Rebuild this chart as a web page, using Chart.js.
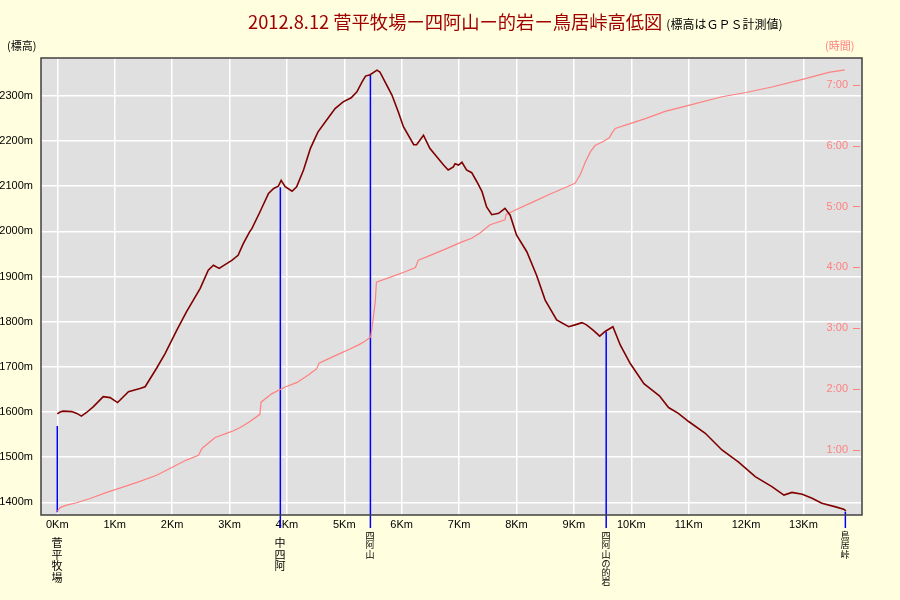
<!DOCTYPE html>
<html><head><meta charset="utf-8">
<script src="https://cdn.jsdelivr.net/npm/chart.js@4.4.1/dist/chart.umd.min.js"></script>
<style>html,body{margin:0;padding:0;background:#ffffe0;}canvas{display:block;}</style>
</head><body>
<canvas id="c" width="900" height="600"></canvas>
<script>
// ---- data (distance in km, elevation in m, elapsed time in hours) ----
const elevKm = [0.00,0.05,0.10,0.25,0.34,0.42,0.51,0.63,0.80,0.92,1.05,1.24,1.44,1.53,1.73,1.88,2.08,2.25,2.49,2.63,2.72,2.82,3.04,3.15,3.24,3.35,3.39,3.53,3.68,3.77,3.85,3.90,3.97,4.09,4.17,4.29,4.41,4.54,4.69,4.84,4.98,5.12,5.22,5.31,5.37,5.45,5.57,5.62,5.71,5.83,5.94,6.03,6.21,6.26,6.38,6.49,6.64,6.73,6.81,6.90,6.93,6.99,7.05,7.13,7.22,7.31,7.40,7.48,7.57,7.69,7.80,7.89,8.00,8.18,8.35,8.50,8.70,8.91,9.02,9.14,9.22,9.34,9.45,9.55,9.68,9.81,9.98,10.22,10.33,10.49,10.65,10.82,11.00,11.29,11.58,11.87,12.16,12.45,12.66,12.80,12.98,13.15,13.32,13.56,13.70,13.74];
const elevM  = [1596,1600,1602,1601,1597,1591,1599,1612,1634,1632,1621,1645,1652,1656,1697,1730,1781,1822,1874,1914,1925,1918,1936,1947,1973,1999,2006,2043,2084,2095,2100,2113,2099,2089,2099,2136,2184,2220,2246,2272,2287,2296,2309,2331,2344,2347,2357,2353,2331,2302,2265,2232,2192,2192,2213,2184,2161,2147,2136,2143,2150,2147,2153,2136,2130,2110,2088,2054,2037,2040,2051,2036,1992,1955,1903,1848,1804,1789,1793,1798,1793,1781,1768,1779,1789,1748,1708,1663,1652,1636,1610,1597,1579,1553,1516,1489,1457,1435,1416,1422,1418,1409,1398,1390,1385,1381];
const timeKm = [0.00,0.05,0.16,0.34,0.57,0.86,1.09,1.44,1.73,2.02,2.25,2.46,2.52,2.75,3.04,3.18,3.35,3.53,3.55,3.74,3.97,4.17,4.38,4.52,4.56,4.72,4.93,5.07,5.25,5.36,5.46,5.49,5.54,5.56,5.83,6.06,6.24,6.29,6.53,6.76,6.93,7.05,7.22,7.37,7.54,7.80,7.82,8.00,8.30,8.58,8.82,9.02,9.11,9.20,9.29,9.37,9.52,9.62,9.66,9.72,9.98,10.27,10.59,11.00,11.58,12.00,12.45,13.00,13.44,13.72];
const timeH  = [0.00,0.06,0.10,0.14,0.21,0.31,0.38,0.49,0.59,0.73,0.84,0.92,1.03,1.21,1.31,1.37,1.47,1.59,1.79,1.93,2.04,2.11,2.24,2.34,2.43,2.50,2.59,2.65,2.73,2.79,2.86,3.06,3.44,3.76,3.85,3.93,4.00,4.12,4.21,4.30,4.37,4.42,4.48,4.57,4.70,4.78,4.87,4.95,5.08,5.20,5.30,5.38,5.52,5.73,5.90,6.00,6.07,6.13,6.20,6.28,6.36,6.45,6.56,6.66,6.80,6.87,6.96,7.09,7.20,7.24];
const kmTicks   = [0,1,2,3,4,5,6,7,8,9,10,11,12,13];
const elevTicks = [1400,1500,1600,1700,1800,1900,2000,2100,2200,2300];
const hourTicks = [1,2,3,4,5,6,7];
const landmarkNames   = ['菅平牧場','中四阿','四阿山','四阿山の的岩','鳥居峠'];
const landmarkKm      = [0, 3.886, 5.455, 9.563, 13.73];
const landmarkTopM    = [1569, 2098, 2347, 1778, 1379];
const landmarkBottomM = [1378, 1343, 1343, 1343, 1343];
const titleMain = '2012.8.12 菅平牧場ー四阿山ー的岩ー鳥居峠高低図';
const titleSub  = '(標高はＧＰＳ計測値)';
const leftAxisTitle  = '(標高)';
const rightAxisTitle = '(時間)';

// ---- styles ----
const NARROW = "'Liberation Sans Narrow','Liberation Sans',sans-serif";
const CJK = "'Noto Sans CJK JP',sans-serif";
const landmarkFontPx = [11, 11, 9, 9, 9];
const PINK = '#ff8080';

const toXY = (xs, ys) => xs.map((x, i) => ({x, y: ys[i]}));
const keepTicks = list => scale => { scale.ticks = list.map(v => ({value: v})); };

const datasets = [
  {label:'標高', data: toXY(elevKm, elevM), yAxisID:'y', borderColor:'#800000', borderWidth:1.6, pointRadius:0, tension:0, order:1},
  {label:'時間', data: toXY(timeKm, timeH), yAxisID:'y2', borderColor:PINK, borderWidth:1.2, pointRadius:0, tension:0, order:2}
];
landmarkKm.forEach((km, i) => {
  datasets.push({label: landmarkNames[i], data:[{x:km, y:landmarkTopM[i]},{x:km, y:landmarkBottomM[i]}], yAxisID:'y',
    borderColor:'#0000ff', borderWidth:1.5, pointRadius:0, clip:false, order:3});
});

const decor = {
  id:'decor',
  beforeDraw(chart){
    const {ctx, chartArea:a} = chart;
    ctx.save();
    ctx.fillStyle = '#ffffe0'; ctx.fillRect(0,0,chart.width,chart.height);
    ctx.fillStyle = '#e0e0e0'; ctx.fillRect(a.left,a.top,a.right-a.left,a.bottom-a.top);
    ctx.restore();
  },
  afterDraw(chart){
    const {ctx, chartArea:a, scales} = chart;
    ctx.save();
    // border
    ctx.strokeStyle = '#404040'; ctx.lineWidth = 1.5;
    ctx.strokeRect(a.left, a.top, a.right-a.left, a.bottom-a.top);
    // right axis dashes
    ctx.strokeStyle = PINK; ctx.lineWidth = 1;
    hourTicks.forEach(h => {
      const y = Math.round(scales.y2.getPixelForValue(h)) + 0.5;
      ctx.beginPath(); ctx.moveTo(a.right-9, y); ctx.lineTo(a.right-2, y); ctx.stroke();
    });
    // landmark vertical labels
    ctx.fillStyle = '#000'; ctx.textAlign = 'center'; ctx.textBaseline = 'middle';
    landmarkNames.forEach((name, i) => {
      const fs = landmarkFontPx[i];
      const x = Math.round(scales.x.getPixelForValue(landmarkKm[i]));
      const y0 = fs > 10 ? 543 : 535.5;
      const step = fs > 10 ? 11.5 : 9.3;
      ctx.font = fs + 'px ' + CJK;
      [...name].forEach((ch, k) => ctx.fillText(ch, x, y0 + k*step));
    });
    // titles
    ctx.textAlign = 'left'; ctx.textBaseline = 'alphabetic';
    ctx.font = '18.3px ' + CJK; ctx.fillStyle = '#a00000';
    ctx.fillText(titleMain, 248, 29);
    const w = ctx.measureText(titleMain).width;
    ctx.font = '12px ' + CJK; ctx.fillStyle = '#000';
    ctx.fillText(titleSub, 248 + w + 4, 29);
    ctx.font = '11px ' + CJK; ctx.textBaseline = 'middle';
    ctx.fillText(leftAxisTitle, 7, 46);
    ctx.fillStyle = PINK;
    ctx.fillText(rightAxisTitle, 825, 46);
    ctx.restore();
  }
};

new Chart(document.getElementById('c'), {
  type:'line',
  data:{datasets},
  options:{
    responsive:false, animation:false, devicePixelRatio:1,
    layout:{padding:{top:58, left:0, right:0, bottom:0}},
    plugins:{legend:{display:false}, tooltip:{enabled:false}},
    scales:{
      x:{type:'linear', min:-0.284, max:14.02,
        afterBuildTicks: keepTicks(kmTicks),
        afterFit: s => { s.height = 85; },
        grid:{color:'#ffffff', lineWidth:1.5, drawTicks:false},
        border:{display:false},
        ticks:{padding:3, color:'#000', font:{family:NARROW, size:11}, callback:v => v + 'Km', maxRotation:0, autoSkip:false}
      },
      y:{type:'linear', position:'left', min:1372, max:2384,
        afterBuildTicks: keepTicks(elevTicks),
        afterFit: s => { s.width = 41; },
        grid:{color:'#ffffff', lineWidth:1.5, drawTicks:false},
        border:{display:false},
        ticks:{padding:8, color:'#000', font:{family:NARROW, size:11}, callback:v => v + 'm'}
      },
      y2:{type:'linear', position:'right', min:-0.061, max:7.436,
        afterBuildTicks: keepTicks(hourTicks),
        afterFit: s => { s.width = 38; },
        grid:{display:false, drawOnChartArea:false, drawTicks:false},
        border:{display:false},
        ticks:{mirror:true, padding:-14, color:PINK, font:{family:NARROW, size:11}, callback:v => v + ':00'}
      }
    }
  },
  plugins:[decor]
});
</script>
</body></html>
